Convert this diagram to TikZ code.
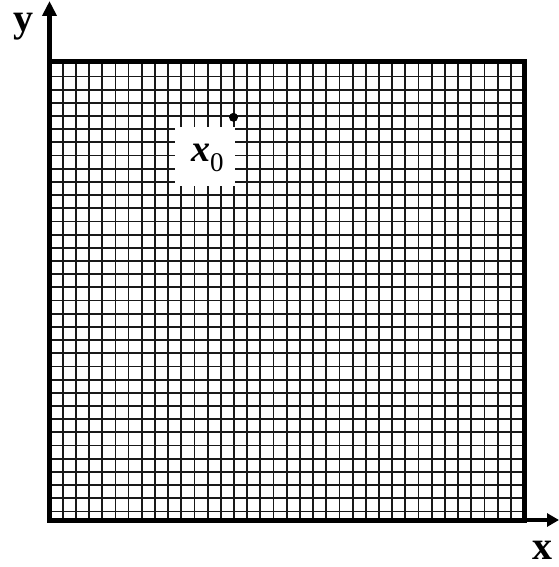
\documentclass[tikz,border=0pt]{standalone}
\usepackage{fontspec}
\setmainfont{Liberation Serif}
\usetikzlibrary{arrows.meta}
\begin{document}
\begin{tikzpicture}[x=1pt,y=-1pt,
  gridline/.style={line width=1.8pt,black!90},
  frame/.style={line width=5pt,black},
  axis/.style={line width=4.5pt,black},
  lbl/.style={font=\fontsize{40}{40}\selectfont\bfseries,inner sep=0pt}]
\useasboundingbox (0,0) rectangle (558,567);
\coordinate (O) at (49.5,520);
\coordinate (TL) at (49.5,61.5);
\coordinate (BR) at (524,520);
\coordinate (ytip) at (49.5,1);
\coordinate (xtip) at (559,520);
\begin{scope}
\clip (TL) rectangle (BR);
\foreach \k in {1,...,35} \draw[gridline] (49.5+13.18*\k,61.5) -- (49.5+13.18*\k,520);
\foreach \k in {1,...,34} \draw[gridline] (49.5,63.3+13.18*\k) -- (524,63.3+13.18*\k);
\end{scope}
\node[fill=white, minimum width=60pt, minimum height=59pt, inner sep=0pt] (x0box) at (205,156.5) {};
\node[circle, fill=black, inner sep=0pt, minimum size=9pt] (x0dot) at (233.5,117.3) {};
\node[anchor=base west, inner sep=0pt] (x0lbl) at (191,161.7)
  {\fontsize{38}{38}\selectfont\bfseries\itshape x\raisebox{-10pt}{\fontsize{27}{27}\selectfont\upshape\mdseries 0}};
\draw[frame] (TL) rectangle (BR);
\draw[axis,-{Triangle[width=14pt,length=15pt]}] (O) -- (ytip);
\draw[axis,-{Triangle[width=13pt,length=12pt]}] (O) -- (xtip);
\node[lbl, anchor=base] (ylbl) at (23,31.7) {y};
\node[lbl, anchor=base] (xlbl) at (542,559) {x};
\end{tikzpicture}
\end{document}
